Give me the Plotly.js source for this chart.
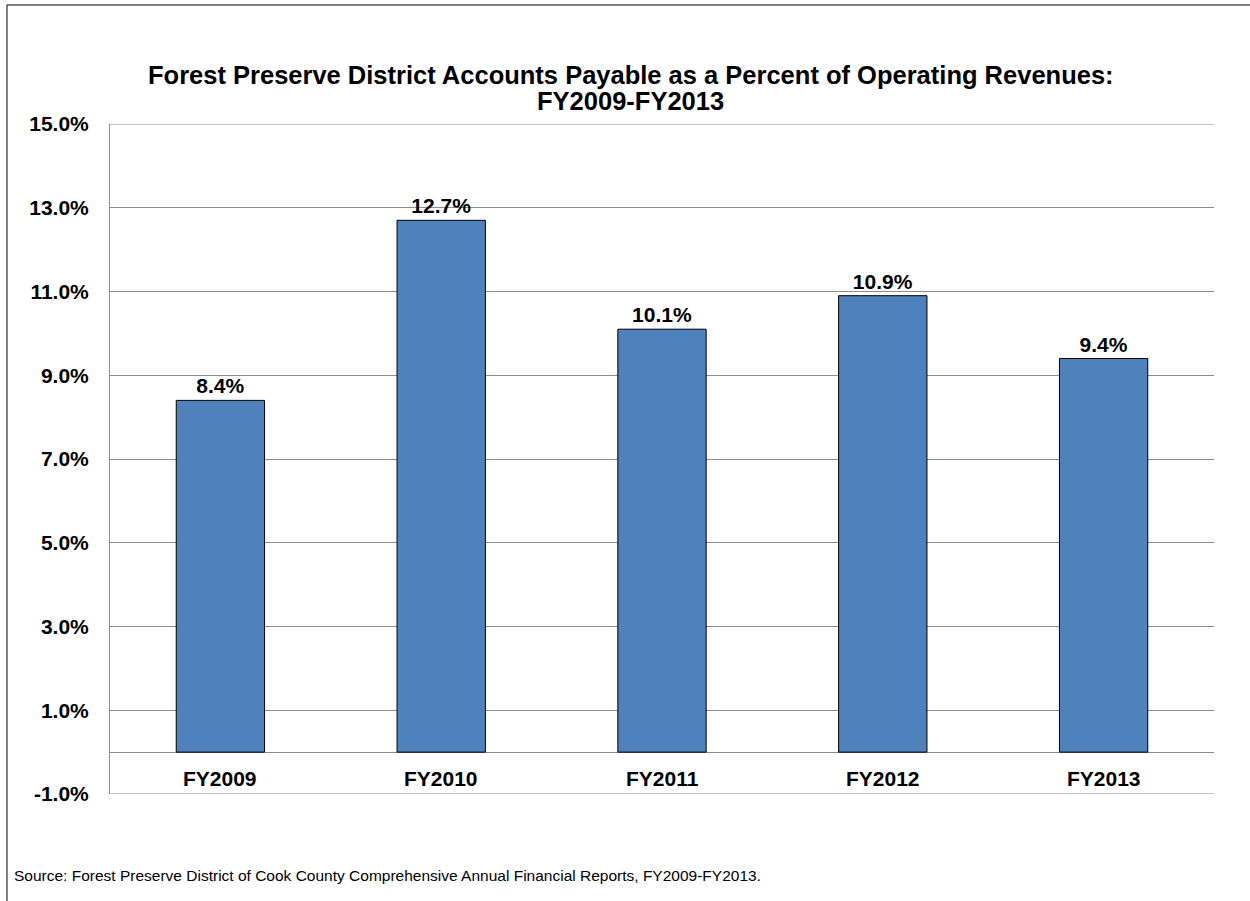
<!DOCTYPE html>
<html>
<head>
<meta charset="utf-8">
<script src="https://cdn.plot.ly/plotly-3.0.1.min.js"></script>
<style>html,body{margin:0;padding:0;background:#fff;}#chart{width:1250px;height:901px;}</style>
</head>
<body>
<div id="chart"></div>
<script>
const categories = ["FY2009", "FY2010", "FY2011", "FY2012", "FY2013"];
const values = [8.4, 12.7, 10.1, 10.9, 9.4];
const yTickVals = [-1, 1, 3, 5, 7, 9, 11, 13, 15];
const yTickText = ["-1.0%", "1.0%", "3.0%", "5.0%", "7.0%", "9.0%", "11.0%", "13.0%", "15.0%"];
const titleLines = ["Forest Preserve District Accounts Payable as a Percent of Operating Revenues:", "FY2009-FY2013"];
const sourceText = "Source: Forest Preserve District of Cook County Comprehensive Annual Financial Reports, FY2009-FY2013.";

const font = "Liberation Sans, Arial, sans-serif";
const yMin = yTickVals[0], yMax = yTickVals[yTickVals.length - 1];

const trace = {
  type: "bar",
  x: categories,
  y: values,
  marker: { color: "#4F81BD", line: { color: "#000000", width: 1 } },
  text: values.map(v => v.toFixed(1) + "%"),
  textposition: "outside",
  cliponaxis: false,
  textfont: { family: font, size: 21, color: "#000", weight: "bold" },
  hoverinfo: "skip"
};

const catAnnotations = categories.map(c => ({
  x: c, y: -0.62, xref: "x", yref: "y",
  text: "<b>" + c + "</b>", showarrow: false,
  font: { family: font, size: 21, color: "#000" },
  xanchor: "center", yanchor: "middle"
}));

const titleAnnotations = titleLines.map((t, i) => ({
  x: 0.4719, y: (794 - (75 + i * 26)) / 670, xref: "paper", yref: "paper",
  text: "<b>" + t + "</b>", showarrow: false,
  font: { family: font, size: 25.5, color: "#000" },
  xanchor: "center", yanchor: "middle"
}));

const layout = {
  width: 1250, height: 901,
  margin: { l: 110, r: 36, t: 124, b: 107 },
  paper_bgcolor: "#fff", plot_bgcolor: "#fff",
  showlegend: false,
  bargap: 0.6,
  xaxis: {
    type: "category",
    showticklabels: false,
    showgrid: false, zeroline: false, showline: false, ticks: ""
  },
  yaxis: {
    range: [yMin, yMax],
    tickvals: yTickVals, ticktext: yTickText,
    tickfont: { family: font, size: 21, color: "#000", weight: "bold" },
    showgrid: true, gridcolor: "#8c8c8c", gridwidth: 1,
    zeroline: true, zerolinecolor: "#8c8c8c", zerolinewidth: 1,
    showline: true, linecolor: "#8c8c8c", linewidth: 1,
    ticks: "", ticklabelstandoff: 16
  },
  annotations: titleAnnotations.concat(catAnnotations).concat([{
    x: -0.0888, y: -0.121, xref: "paper", yref: "paper",
    text: sourceText, showarrow: false,
    font: { family: font, size: 15.5, color: "#000" },
    xanchor: "left", yanchor: "middle"
  }]),
  shapes: [
    {
      type: "rect", xref: "paper", yref: "paper",
      x0: -0.0933, x1: 1.2, y0: -0.3, y1: 1.1776,
      line: { color: "#000", width: 1 }, fillcolor: "rgba(0,0,0,0)", layer: "below"
    },
    { type: "line", xref: "paper", yref: "y", x0: 0, x1: 1, y0: yMax, y1: yMax, line: { color: "#8c8c8c", width: 1 }, layer: "below" },
    { type: "line", xref: "paper", yref: "y", x0: 0, x1: 1, y0: yMin, y1: yMin, line: { color: "#8c8c8c", width: 1 }, layer: "below" }
  ]
};

Plotly.newPlot("chart", [trace], layout, { displayModeBar: false, staticPlot: true });
</script>
</body>
</html>
